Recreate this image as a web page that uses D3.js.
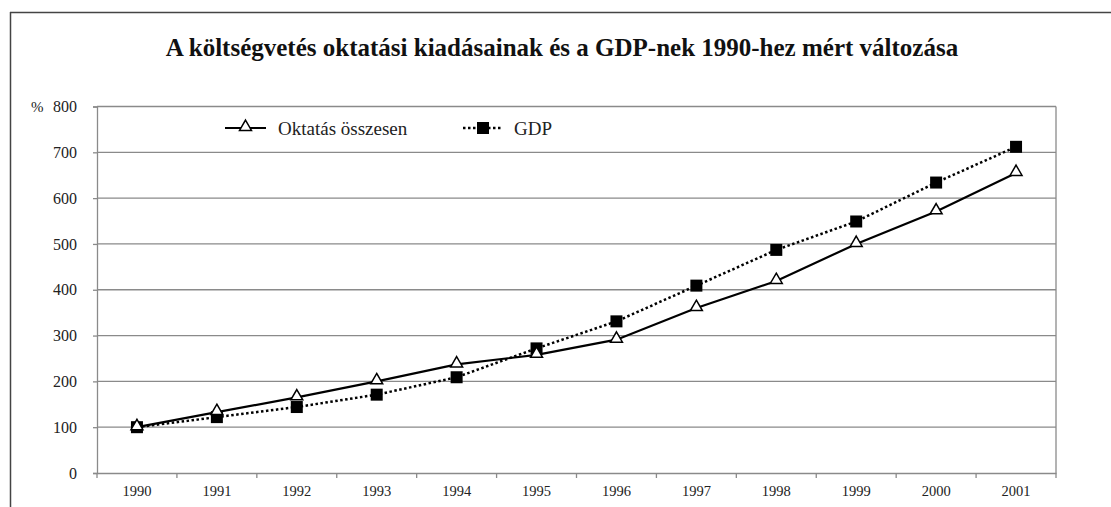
<!DOCTYPE html>
<html>
<head>
<meta charset="utf-8">
<script src="https://cdn.jsdelivr.net/npm/d3@7"></script>
<style>
  body { margin: 0; background: #fff; }
  svg text { font-family: "Times New Roman", "Liberation Serif", Times, "DejaVu Serif", serif; fill: #222; }
</style>
</head>
<body>
<div id="chart"></div>
<script>
  var years = ["1990", "1991", "1992", "1993", "1994", "1995", "1996", "1997", "1998", "1999", "2000", "2001"];
  var oktatas = [100, 133, 165, 200, 237, 258, 291, 360, 419, 500, 571, 655];
  var gdp = [100, 122, 144, 171, 209, 272, 331, 409, 487, 549, 634, 712];
  var yTicks = [0, 100, 200, 300, 400, 500, 600, 700, 800];
  var seriesNames = ["Oktatás összesen", "GDP"];
  var titleText = "A költségvetés oktatási kiadásainak és a GDP-nek 1990-hez mért változása";

  var serif = '"Times New Roman", "Liberation Serif", Times, "DejaVu Serif", serif';

  var w = 1111, h = 507;
  var margin = { top: 106.5, left: 97, right: 55, bottom: 34 };
  var width = w - margin.left - margin.right;
  var height = h - margin.top - margin.bottom;

  var svg = d3.select("#chart").append("svg")
    .attr("width", w)
    .attr("height", h);

  // outer frame (only top and left visible)
  svg.append("line").attr("x1", 10).attr("x2", w).attr("y1", 12.5).attr("y2", 12.5)
    .style("stroke", "#444").style("stroke-width", 1.5);
  svg.append("line").attr("x1", 10.5).attr("x2", 10.5).attr("y1", 12).attr("y2", h)
    .style("stroke", "#444").style("stroke-width", 1.5);

  svg.append("text")
    .attr("x", 562)
    .attr("y", 56)
    .attr("text-anchor", "middle")
    .style("font-family", serif)
    .style("font-size", "25px")
    .style("font-weight", "bold")
    .style("fill", "#111")
    .text(titleText);

  var g = svg.append("g")
    .attr("transform", "translate(" + margin.left + "," + margin.top + ")");

  var xScale = d3.scaleBand().domain(years).range([0, width]);
  var yScale = d3.scaleLinear().domain([0, 800]).range([height, 0]);

  // gridlines
  g.selectAll(".grid")
    .data(yTicks.filter(function(d){ return d > 0 }))
    .enter().append("line")
    .attr("x1", 0).attr("x2", width)
    .attr("y1", function(d){ return yScale(d) })
    .attr("y2", function(d){ return yScale(d) })
    .style("stroke", "#8a8a8a")
    .style("stroke-width", 1.3);

  // right frame
  g.append("line").attr("x1", width).attr("x2", width).attr("y1", 0).attr("y2", height)
    .style("stroke", "#8a8a8a").style("stroke-width", 1.3);

  var yAxis = d3.axisLeft(yScale).tickValues(yTicks).tickSize(4).tickPadding(16);
  var yg = g.append("g").call(yAxis).attr("font-family", null);
  yg.select(".domain").style("stroke", "#8a8a8a").style("stroke-width", 1.3);
  yg.selectAll(".tick line").style("stroke", "#8a8a8a").style("stroke-width", 1.3);
  yg.selectAll("text").style("font-size", "16px").style("font-family", serif);

  svg.append("text")
    .attr("x", 31)
    .attr("y", margin.top + 5)
    .style("font-family", serif)
    .style("font-size", "15px")
    .text("%");

  var xAxis = d3.axisBottom(xScale).tickSize(0).tickPadding(13);
  var xg = g.append("g").attr("transform", "translate(0," + height + ")").call(xAxis).attr("font-family", null);
  xg.select(".domain").style("stroke", "#8a8a8a").style("stroke-width", 1.3);
  xg.selectAll("text").style("font-size", "14.5px").style("font-family", serif);

  // tick marks between categories
  var bounds = years.map(function(d){ return xScale(d) }).concat([width]);
  xg.selectAll(".sep")
    .data(bounds)
    .enter().append("line")
    .attr("x1", function(d){ return d }).attr("x2", function(d){ return d })
    .attr("y1", 0).attr("y2", 5)
    .style("stroke", "#8a8a8a").style("stroke-width", 1.3);

  function cx(d, i) { return xScale(years[i]) + xScale.bandwidth() / 2 }

  var line = d3.line()
    .x(function(d, i){ return cx(d, i) })
    .y(function(d){ return yScale(d) });

  g.append("path")
    .datum(gdp)
    .attr("d", line)
    .style("fill", "none")
    .style("stroke", "#000")
    .style("stroke-width", 2.5)
    .style("stroke-dasharray", "2.5,2.5");

  g.append("path")
    .datum(oktatas)
    .attr("d", line)
    .style("fill", "none")
    .style("stroke", "#000")
    .style("stroke-width", 2.2);

  var tri = d3.symbol().type(d3.symbolTriangle).size(62);

  g.selectAll(".sq")
    .data(gdp)
    .enter().append("rect")
    .attr("x", function(d, i){ return cx(d, i) - 6 })
    .attr("y", function(d){ return yScale(d) - 6 })
    .attr("width", 12).attr("height", 12)
    .style("fill", "#000");

  g.selectAll(".tri")
    .data(oktatas)
    .enter().append("path")
    .attr("d", tri)
    .attr("transform", function(d, i){ return "translate(" + cx(d, i) + "," + (yScale(d) - 1) + ")" })
    .style("fill", "#fff")
    .style("stroke", "#000")
    .style("stroke-width", 1.5);

  // legend
  var lg = svg.append("g");
  lg.append("line").attr("x1", 225).attr("x2", 266).attr("y1", 128).attr("y2", 128)
    .style("stroke", "#000").style("stroke-width", 2.2);
  lg.append("path").attr("d", tri)
    .attr("transform", "translate(245.5,127)")
    .style("fill", "#fff").style("stroke", "#000").style("stroke-width", 1.5);
  lg.append("text").attr("x", 278).attr("y", 134.5)
    .style("font-family", serif)
    .style("font-size", "19px").text(seriesNames[0]);

  lg.append("line").attr("x1", 463).attr("x2", 503).attr("y1", 128).attr("y2", 128)
    .style("stroke", "#000").style("stroke-width", 2.5).style("stroke-dasharray", "2.5,2.5");
  lg.append("rect").attr("x", 477).attr("y", 122).attr("width", 12).attr("height", 12)
    .style("fill", "#000");
  lg.append("text").attr("x", 514).attr("y", 134.5)
    .style("font-family", serif)
    .style("font-size", "19px").text(seriesNames[1]);
</script>
</body>
</html>
